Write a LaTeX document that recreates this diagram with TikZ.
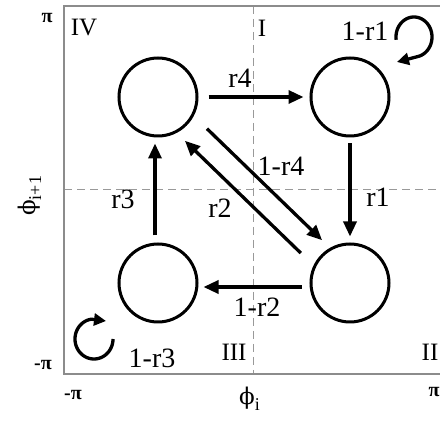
\documentclass[tikz,border=0pt]{standalone}
\usepackage{fontspec}
\setmainfont{Liberation Serif}
\newfontfamily\phifont{DejaVu Serif}
\usetikzlibrary{arrows.meta}
\tikzset{
  state/.style={circle, draw, line width=3pt, minimum size=78pt, inner sep=0pt},
  arr/.style={line width=3.3pt, -{Triangle[length=15pt,width=13pt]}},
  looparr/.style={line width=3.3pt, -{Triangle[length=12pt,width=12pt]}},
  lbl/.style={font=\fontsize{28}{30}\selectfont, inner sep=0pt},
  quad/.style={font=\fontsize{25}{28}\selectfont, inner sep=0pt},
  tick/.style={font=\fontsize{20}{22}\selectfont\bfseries, inner sep=0pt},
  axlbl/.style={font=\fontsize{28}{30}\selectfont, inner sep=0pt},
  frame/.style={draw=black!45, line width=1.5pt},
  guide/.style={draw=black!40, line width=1pt, dash pattern=on 8pt off 5pt}
}
\newcommand{\myphi}{{\phifont\fontsize{23}{25}\selectfont\symbol{"03D5}}}
\begin{document}
\begin{tikzpicture}[x=1pt,y=-1pt]
\useasboundingbox (0,0) rectangle (440,427);
\clip (0,0) rectangle (440,427);
\fill[white] (0,0) rectangle (440,427);
% frame and guides
\coordinate (fTL) at (64,6);
\coordinate (fBR) at (446,374);
\path[guide] (253,6) -- (253,374);
\path[guide] (64,190) -- (446,190);
\path[frame] (fTL) rectangle (fBR);
% states
\node[state] (TL) at (158,97) {};
\node[state] (TR) at (350,97) {};
\node[state] (BL) at (158,283) {};
\node[state] (BR) at (350,283) {};
% transitions
\draw[arr, shorten <=10pt, shorten >=6pt] (TL.east) -- (TR.west);
\draw[arr, shorten <=6pt, shorten >=6pt] (TR.south) -- (BR.north);
\draw[arr, shorten <=8pt, shorten >=5pt] ([shift={(0,4)}]BR.west) -- ([shift={(0,4)}]BL.east);
\draw[arr, shorten <=7pt, shorten >=6pt] ([shift={(-3,0)}]BL.north) -- ([shift={(-3,0)}]TL.south);
\draw[arr, shorten <=57pt, shorten >=50pt] ([shift={(8,-8)}]TL.center) -- ([shift={(8,-8)}]BR.center);
\draw[arr, shorten <=56pt, shorten >=50pt] ([shift={(-9,9)}]BR.center) -- ([shift={(-9,9)}]TL.center);
% self loops
\coordinate (tipTR) at (397,62);
\coordinate (tipBL) at (106,321);
\draw[looparr] plot[domain=172:438, samples=80] ({414+18*cos(\x)}, {37+20*sin(\x)}) -- (tipTR);
\draw[looparr] plot[domain=0:262, samples=80] ({94+19*cos(\x)}, {339+20*sin(\x)}) -- (tipBL);
% labels
\node[lbl] (l4) at (240,78) {r4};
\node[lbl] (l11) at (365,31) {1-r1};
\node[lbl] (l14) at (281,166) {1-r4};
\node[lbl] (l1) at (378,197) {r1};
\node[lbl] (l2) at (220,208) {r2};
\node[lbl] (l3) at (123,199) {r3};
\node[lbl] (l12) at (257,307) {1-r2};
\node[lbl] (l13) at (152,358) {1-r3};
% quadrants
\node[quad] (qIV) at (84,28) {IV};
\node[quad] (qI) at (262,28) {I};
\node[quad] (qIII) at (234,352) {III};
\node[quad] (qII) at (430,352) {II};
% ticks
\node[tick] (tpy) at (47,18) {π};
\node[tick] (tmy) at (43,365) {-π};
\node[tick] (tmx) at (73,395) {-π};
\node[tick] (tpx) at (434,392) {π};
% axis labels
\node[axlbl, anchor=base west] (ax) at (239,405) {\myphi\raisebox{-6pt}{\fontsize{18}{20}\selectfont i}};
\node[axlbl, rotate=90, anchor=base west] (ay) at (35,216) {\myphi\raisebox{-6pt}{\fontsize{18}{20}\selectfont i+1}};
\end{tikzpicture}
\end{document}
